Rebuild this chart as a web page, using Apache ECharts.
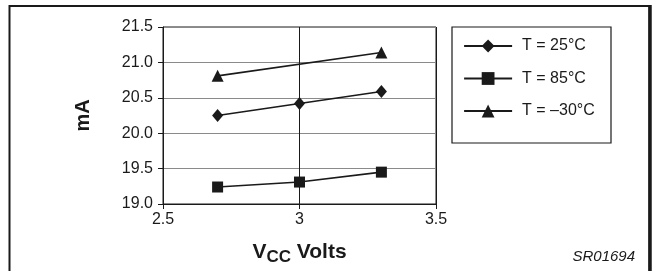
<!DOCTYPE html>
<html>
<head>
<meta charset="utf-8">
<script src="https://cdn.jsdelivr.net/npm/echarts@6/dist/echarts.min.js"></script>
<style>
  html, body { margin: 0; padding: 0; background: #fff; }
  #chart { width: 654px; height: 271px; }
</style>
</head>
<body>
<div id="chart"></div>
<script>
// values (V_CC in volts, current in mA)
const vcc = [2.7, 3.0, 3.3];
const t25 = [20.25, 20.42, 20.59];
const t85 = [19.24, 19.31, 19.45];
const tMinus30Vcc = [2.7, 3.3];
const tMinus30 = [20.81, 21.14];
const seriesNames = ['T = 25°C', 'T = 85°C', 'T = \u201330°C'];
const yTicks = [19.0, 19.5, 20.0, 20.5, 21.0, 21.5];
const xTicks = [2.5, 3, 3.5];

const ink = '#1a1a1a';
const font = '"Liberation Sans", Arial, sans-serif';

const chart = echarts.init(document.getElementById('chart'), null, { renderer: 'canvas' });

const pairs = (xs, ys) => xs.map((x, i) => [x, ys[i]]);

const lineSeries = (name, data, symbol, size) => ({
  name,
  type: 'line',
  data,
  symbol,
  symbolSize: size,
  showAllSymbol: true,
  lineStyle: { color: ink, width: 1.6 },
  itemStyle: { color: ink },
  emphasis: { disabled: true },
  animation: false,
});

chart.setOption({
  animation: false,
  textStyle: { fontFamily: font },
  grid: { left: 163, top: 27, width: 273, height: 178, show: true, borderColor: ink, borderWidth: 1 },
  xAxis: {
    type: 'value',
    min: xTicks[0],
    max: xTicks[xTicks.length - 1],
    interval: 0.5,
    axisLine: { lineStyle: { color: ink } },
    axisTick: { show: true, length: 5, lineStyle: { color: ink } },
    axisLabel: { color: ink, fontSize: 16, margin: 8, formatter: v => String(v) },
    splitLine: { show: true, lineStyle: { color: ink, width: 1 } },
    name: 'V{sub|CC} Volts',
    nameLocation: 'middle',
    nameGap: 35,
    nameTextStyle: {
      color: ink, fontSize: 21, fontWeight: 'bold',
      rich: { sub: { fontSize: 17, fontWeight: 'bold', color: ink, padding: [10, 0, 0, 0] } },
    },
  },
  yAxis: {
    type: 'value',
    min: yTicks[0],
    max: yTicks[yTicks.length - 1],
    interval: 0.5,
    axisLine: { show: true, lineStyle: { color: ink } },
    axisTick: { show: true, length: 5, lineStyle: { color: ink } },
    axisLabel: { color: ink, fontSize: 16, margin: 10, formatter: v => v.toFixed(1) },
    splitLine: { show: true, lineStyle: { color: '#8a8a8a', width: 1 } },
    name: 'mA',
    nameLocation: 'middle',
    nameGap: 70,
    nameTextStyle: { color: ink, fontSize: 20, fontWeight: 'bold' },
  },
  legend: {
    orient: 'vertical',
    left: 458,
    top: 33,
    itemWidth: 48,
    itemHeight: 16,
    itemGap: 16.5,
    selectedMode: false,
    data: seriesNames,
    lineStyle: { width: 2.2 },
    textStyle: { color: ink, fontSize: 16, padding: [0, 0, 0, 5] },
  },
  graphic: [
    { type: 'rect', shape: { x: 9.5, y: 6, width: 640, height: 300 }, style: { fill: null, stroke: ink, lineWidth: 2 }, silent: true },
    { type: 'line', shape: { x1: 650, y1: 5, x2: 650, y2: 280 }, style: { stroke: ink, lineWidth: 3.5 }, silent: true },
    { type: 'rect', shape: { x: 452, y: 27, width: 159, height: 116 }, style: { fill: null, stroke: ink, lineWidth: 1.2 }, silent: true },
    { type: 'text', right: 19, top: 249, style: { text: 'SR01694', font: 'italic 15px ' + font, fill: ink }, silent: true },
  ],
  series: [
    lineSeries(seriesNames[0], pairs(vcc, t25), 'diamond', [11, 13]),
    lineSeries(seriesNames[1], pairs(vcc, t85), 'rect', 11),
    lineSeries(seriesNames[2], pairs(tMinus30Vcc, tMinus30), 'triangle', 12),
  ],
});
</script>
</body>
</html>
